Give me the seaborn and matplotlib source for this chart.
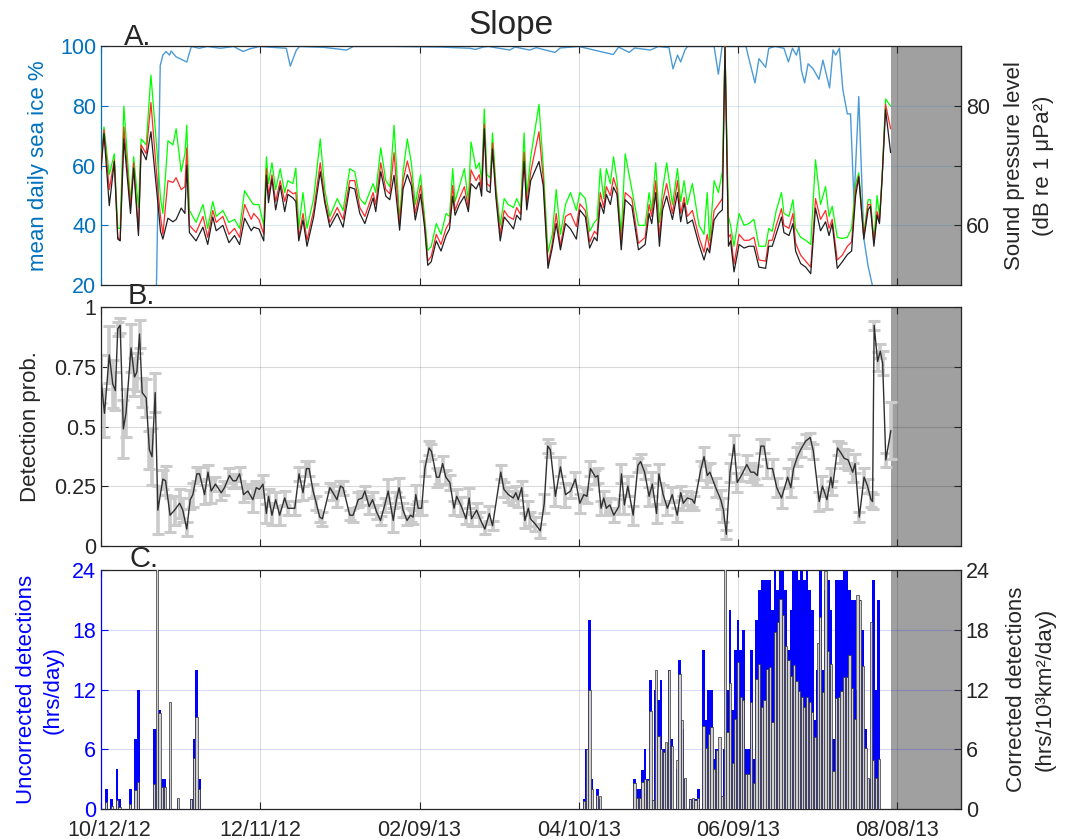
import numpy as np
import pandas as pd
import matplotlib
matplotlib.use("Agg")
import matplotlib.pyplot as plt
import matplotlib.dates as mdates
from matplotlib.ticker import FixedLocator, FixedFormatter
from matplotlib.transforms import ScaledTranslation
import seaborn as sns

sns.set_style("white")
plt.rcParams['font.family'] = ['Liberation Sans', 'DejaVu Sans']

# ==========================================
# data (days counted from START)
# ==========================================
START = "2012-10-12"
END_DAY = 324
NO_DATA_FROM = 297.5
TICK_DATES = ["2012-10-12", "2012-12-11", "2013-02-09", "2013-04-10", "2013-06-09", "2013-08-08"]

# A. sound pressure level, three percentiles (dB re 1 uPa^2)
spl_day = [0.0, 1.1, 3.1, 5.0, 6.3, 7.2, 8.6, 11.1, 12.3, 14.1, 15.1, 17.0, 18.8, 21.4, 22.4, 23.3,
           25.2, 27.1, 28.3, 30.2, 31.6, 32.3, 33.3, 35.8, 38.4, 40.2, 42.1, 43.4, 45.9, 48.2, 50.3,
           52.2, 54.1, 56.6, 57.5, 59.5, 61.3, 62.3, 63.1, 64.4, 65.8, 67.5, 69.2, 70.4, 72.3, 73.4,
           74.5, 76.1, 77.6, 80.1, 82.6, 84.3, 86.2, 89.0, 91.2, 93.7, 95.6, 97.5, 99.4, 102.5, 103.5,
           105.4, 107.3, 108.8, 110.4, 112.5, 113.8, 115.4, 116.9, 118.4, 120.4, 121.9, 123.1, 124.4,
           126.3, 128.1, 130.0, 131.3, 132.5, 133.4, 135.0, 136.9, 138.4, 139.4, 141.3, 142.5, 143.4,
           144.4, 145.4, 146.6, 147.5, 148.8, 150.4, 151.9, 153.4, 155.4, 156.6, 158.1, 159.4, 160.4,
           161.9, 165.0, 166.6, 168.4, 170.0, 171.5, 173.1, 175.0, 176.9, 179.1, 180.4, 182.5, 184.1,
           185.9, 186.9, 188.1, 189.4, 190.4, 191.9, 193.1, 194.4, 196.0, 197.5, 200.0, 202.5, 205.0,
           206.5, 207.5, 209.0, 210.4, 211.6, 213.1, 215.3, 217.2, 218.4, 219.7, 220.9, 222.8, 225.3,
           227.2, 228.4, 229.3, 231.0, 232.6, 234.1, 235.1, 236.4, 237.2, 238.5, 240.4, 242.3, 244.1,
           246.0, 247.9, 250.4, 251.6, 252.9, 254.4, 256.4, 257.3, 259.2, 260.7, 261.7, 263.6, 265.5,
           267.4, 269.2, 271.1, 273.0, 274.3, 275.5, 277.4, 279.3, 281.2, 282.8, 284.3, 285.5, 287.4,
           289.0, 289.9, 291.2, 292.4, 293.3, 294.3, 295.6, 297.5]
spl_low = [69.3, 75.4, 63.3, 70.7, 57.7, 57.4, 74.5, 62.0, 69.6, 58.3, 72.8, 71.0, 75.7, 63.8, 59.0, 57.7,
           61.2, 60.6, 61.0, 62.9, 62.0, 70.1, 58.8, 57.4, 59.7, 56.8, 61.4, 59.1, 60.0, 57.1, 58.3,
           56.8, 61.2, 59.1, 59.7, 59.4, 57.4, 68.4, 63.8, 67.8, 62.6, 66.7, 62.3, 65.2, 64.6, 64.0,
           57.4, 60.9, 56.5, 61.4, 69.0, 63.8, 59.7, 62.0, 59.7, 66.4, 66.1, 62.0, 60.3, 64.6, 62.3,
           69.0, 64.9, 64.3, 68.4, 59.2, 66.1, 68.5, 66.7, 60.9, 65.2, 59.7, 53.3, 53.9,
           57.4, 55.7, 58.3, 59.4, 64.9, 61.7, 63.5, 64.9, 62.3, 67.0, 66.1, 67.2, 64.9,
           76.2, 65.8, 65.5, 72.8, 64.6, 57.4, 61.4, 60.6, 59.4, 61.7, 60.9, 70.7, 62.6,
           67.5, 70.7, 66.7, 52.8, 56.2, 60.3, 55.9, 60.3, 59.4, 57.7, 62.6, 61.4, 56.2,
           58.0, 57.4, 63.8, 62.0, 65.2, 63.5, 66.4, 65.2, 55.9, 64.3, 63.2, 55.9, 56.8,
           62.0, 60.3, 65.5, 56.5, 62.6, 64.9, 61.0, 65.5, 60.6, 63.8, 60.3, 60.9, 56.8,
           54.2, 56.2, 55.4, 60.9, 62.0, 62.6, 89.9, 56.5, 57.4, 52.2, 56.8, 56.2, 56.5,
           56.5, 53.0, 52.8, 56.5, 56.5, 58.6, 61.4, 58.8, 58.3, 60.3, 55.7, 53.6, 53.0,
           51.9, 62.9, 59.1, 60.6, 58.3, 60.3, 52.8, 53.9, 55.1, 55.7, 64.9, 68.1, 57.7,
           62.6, 63.2, 56.5, 61.7, 60.3, 67.8, 79.4, 72.2]
spl_mid = [70.0, 76.0, 66.0, 71.0, 58.0, 57.5, 76.5, 63.0, 70.5, 59.0, 73.5, 72.0, 80.6, 66.0, 61.5, 58.5,
           67.5, 67.2, 68.0, 66.0, 66.5, 73.0, 60.0, 58.8, 61.5, 58.0, 62.5, 60.5, 61.5, 58.5, 59.5,
           58.0, 63.5, 61.0, 62.0, 61.0, 58.5, 69.5, 65.0, 68.5, 64.0, 67.5, 64.0, 66.0, 65.3, 65.5,
           58.0, 62.0, 57.5, 62.5, 70.5, 64.5, 60.5, 63.0, 61.0, 67.5, 67.5, 63.0, 61.5, 65.5, 63.5,
           70.5, 66.0, 65.3, 72.2, 60.0, 67.5, 70.8, 68.0, 62.0, 66.7, 60.5, 54.0, 54.8,
           58.5, 56.8, 59.5, 60.5, 66.7, 62.5, 64.5, 66.5, 63.0, 69.3, 67.5, 68.5, 66.0,
           77.0, 67.0, 66.5, 73.8, 65.5, 58.5, 62.5, 61.5, 61.0, 63.0, 61.8, 72.3, 63.5,
           69.0, 75.7, 68.0, 53.5, 57.0, 62.0, 56.5, 61.5, 62.0, 59.8, 63.6, 62.5, 57.2,
           59.0, 58.5, 65.5, 63.0, 66.5, 65.0, 68.0, 66.0, 57.0, 65.5, 64.5, 57.0, 58.0,
           63.5, 61.5, 67.5, 58.0, 64.0, 67.0, 62.0, 67.5, 62.0, 64.7, 61.5, 62.5, 58.0,
           55.5, 58.5, 56.0, 62.5, 63.5, 64.5, 90.0, 58.0, 58.5, 53.5, 58.5, 57.5, 57.5,
           58.0, 54.2, 54.0, 57.5, 57.5, 60.0, 62.8, 60.0, 59.5, 62.0, 57.0, 55.0, 54.0,
           53.0, 64.5, 61.0, 62.5, 59.5, 61.0, 54.2, 55.0, 56.5, 57.2, 66.0, 68.3, 58.0,
           63.5, 63.5, 57.0, 62.3, 60.8, 68.0, 80.3, 76.2]
spl_high = [70.5, 76.5, 68.5, 72.0, 59.5, 59.5, 80.0, 64.0, 71.5, 63.0, 74.5, 73.5, 85.2, 70.7, 64.6, 62.0,
            74.2, 73.5, 76.2, 69.0, 72.0, 76.8, 62.5, 60.5, 63.5, 59.5, 64.0, 61.5, 62.5, 60.5, 61.0,
            59.5, 65.8, 64.0, 63.5, 63.5, 60.0, 71.5, 67.0, 70.5, 66.0, 69.5, 65.5, 67.5, 67.0, 69.6,
            59.5, 65.5, 59.5, 64.5, 74.5, 66.0, 61.5, 64.5, 62.5, 69.5, 69.0, 64.5, 63.5, 67.0, 65.5,
            73.0, 67.5, 66.5, 76.8, 61.0, 69.0, 74.5, 70.5, 63.5, 68.5, 61.5, 55.8, 56.5,
            60.3, 58.5, 62.0, 61.5, 69.5, 64.0, 66.5, 69.5, 64.0, 74.0, 69.5, 70.5, 67.5,
            79.5, 68.5, 68.0, 75.5, 66.5, 60.0, 64.5, 63.5, 63.0, 64.5, 63.0, 75.5, 65.0,
            71.5, 80.3, 70.0, 55.5, 58.5, 66.0, 58.5, 63.5, 65.5, 62.5, 65.5, 64.5, 59.0,
            60.5, 61.0, 69.5, 64.5, 69.5, 67.0, 71.5, 67.5, 58.5, 72.0, 66.0, 60.0, 60.0,
            65.5, 62.5, 70.5, 60.5, 66.0, 70.5, 63.5, 69.5, 64.0, 67.5, 63.5, 67.0, 60.0,
            58.5, 65.5, 57.5, 67.5, 65.5, 69.0, 90.0, 61.5, 60.0, 56.5, 62.0, 60.0, 60.3,
            61.0, 56.5, 56.5, 59.5, 59.0, 62.5, 65.5, 62.0, 61.5, 64.3, 59.5, 58.0, 57.5,
            56.8, 71.0, 63.5, 66.5, 61.5, 63.2, 58.0, 57.8, 58.0, 59.5, 67.0, 68.8, 58.5,
            64.3, 64.3, 57.5, 65.0, 61.5, 68.3, 81.2, 80.0]

# A. mean daily sea ice (%)
ice_day = [20.5, 22.3, 23.3, 24.5, 25.8, 26.4, 28.3, 32.3, 34.0, 37.0, 40.0, 45.0, 50.0, 53.5, 56.0,
           59.7, 69.8, 71.3, 73.6, 74.8, 84.0, 92.5, 95.0, 110.0, 128.0, 139.0, 141.0, 144.0, 146.0,
           154.0, 156.0, 161.5, 164.0, 171.0, 173.0, 180.0, 193.0, 195.0, 199.0, 201.0, 207.0, 210.0,
           214.0, 215.5, 217.2, 218.4, 220.0, 221.0, 231.0, 232.6, 234.0, 243.0, 244.1, 246.4, 247.9,
           250.4, 251.6, 254.0, 257.3, 259.0, 260.5, 262.0, 263.0, 263.9, 265.1, 266.4, 268.3, 270.5,
           272.0, 274.5, 275.8, 276.8, 278.2, 279.5, 281.2, 282.4, 283.7, 285.5, 287.4, 289.0, 290.6,
           291.5]
ice_pct = [0.0, 93.6, 97.1, 98.3, 97.1, 98.5, 96.5, 94.8, 100.0, 99.4, 100.0, 99.4, 100.0, 98.3, 99.2,
           100.0, 99.4, 93.4, 98.8, 100.0, 99.7, 98.8, 100.0, 100.0, 99.8, 99.4, 99.0, 99.8, 100.0,
           98.8, 99.8, 98.8, 99.6, 98.0, 99.5, 100.0, 97.3, 99.8, 98.0, 99.5, 98.8, 100.0,
           99.6, 92.5, 97.1, 94.8, 98.8, 100.0, 100.0, 90.7, 100.0, 100.0, 95.9, 87.8, 95.9,
           93.0, 99.4, 100.0, 99.4, 94.8, 99.4, 97.1, 100.0, 91.9, 87.8, 94.2, 92.5, 89.0,
           95.4, 86.1, 98.8, 97.1, 99.4, 85.5, 77.4, 77.4, 47.8, 83.2, 35.7, 26.4, 20.0,
           12.0]

# B. detection probability and its uncertainty
prob_day = [0.0, 1.3, 3.1, 4.4, 5.4, 6.3, 7.2, 8.4, 9.4, 11.3, 12.6, 13.5, 14.5, 15.5, 17.0, 18.2, 19.2,
            20.4, 21.4, 23.3, 24.3, 26.0, 27.7, 29.6, 30.8, 32.3, 33.6, 34.6, 36.1, 37.1, 39.0, 40.3,
            41.5, 43.1, 45.3, 46.5, 48.4, 49.7, 50.9, 52.2, 53.7, 55.3, 57.2, 58.5, 59.7, 61.0, 62.3,
            63.1, 64.4, 65.8, 67.3, 69.2, 70.4, 73.0, 74.6, 76.1, 77.4, 78.4, 79.9, 81.1, 82.4, 83.4,
            86.2, 87.4, 88.9, 90.2, 91.2, 93.7, 95.0, 96.9, 98.4, 99.4, 101.0, 102.3, 103.8, 105.3,
            106.9, 108.2, 110.1, 111.3, 112.3, 113.8, 115.3, 116.6, 117.6, 118.6, 119.5, 120.8, 122.0,
            123.6, 124.5, 126.4, 127.4, 128.7, 129.9, 131.4, 133.0, 134.0, 135.8, 137.5, 138.7, 139.6,
            141.5, 142.8, 144.6, 146.3, 147.5, 150.6, 151.8, 153.5, 155.3, 156.3, 157.2, 158.5, 159.7,
            161.0, 161.8, 163.6, 165.5, 167.0, 168.3, 169.3, 171.2, 173.1, 175.0, 176.9, 178.7, 180.4,
            181.9, 183.1, 184.4, 186.3, 187.2, 188.4, 189.4, 190.4, 191.7, 193.2, 195.1, 196.1, 197.2,
            198.5, 200.5, 202.3, 203.3, 204.8, 206.5, 207.7, 209.3, 210.2, 211.8, 213.4, 215.2, 217.1,
            218.4, 219.4, 220.9, 222.8, 223.6, 225.9, 227.2, 228.4, 229.4, 231.6, 233.5, 234.5, 235.6,
            237.0, 238.5, 239.7, 241.6, 243.3, 244.8, 246.0, 247.3, 248.6, 249.8, 251.1, 253.0, 254.6,
            256.4, 258.7, 259.9, 260.9, 262.4, 263.6, 265.5, 267.2, 268.4, 270.6, 271.8, 273.5, 275.0,
            275.6, 277.5, 278.8, 280.0, 281.5, 283.2, 284.1, 285.7, 287.5, 288.8, 290.1, 290.7, 291.3,
            292.6, 293.6, 294.5, 295.7, 297.6]
prob = [0.70, 0.555, 0.80, 0.678, 0.65, 0.909, 0.923, 0.49, 0.555, 0.829, 0.707, 0.728, 0.887, 0.642,
        0.62, 0.403, 0.374, 0.642, 0.15, 0.28, 0.273, 0.129, 0.15, 0.179, 0.15, 0.071, 0.194, 0.215,
        0.302, 0.302, 0.215, 0.309, 0.23, 0.259, 0.223, 0.244, 0.295, 0.273, 0.273, 0.302, 0.215, 0.23,
        0.194, 0.244, 0.237, 0.259, 0.136, 0.208, 0.129, 0.194, 0.129, 0.201, 0.158, 0.158, 0.302,
        0.223, 0.324, 0.324, 0.23, 0.179, 0.121, 0.114, 0.244, 0.223, 0.194, 0.251, 0.244, 0.129,
        0.129, 0.194, 0.201, 0.23, 0.165, 0.194, 0.143, 0.107, 0.172, 0.23, 0.107, 0.194, 0.244, 0.15,
        0.107, 0.129, 0.121, 0.215, 0.158, 0.158, 0.324, 0.41, 0.396, 0.288, 0.288, 0.345, 0.288,
        0.266, 0.158, 0.208, 0.165, 0.114, 0.201, 0.114, 0.15, 0.114, 0.071, 0.136, 0.085, 0.309,
        0.237, 0.215, 0.201, 0.223, 0.194, 0.244, 0.107, 0.158, 0.114, 0.092, 0.064, 0.179, 0.418,
        0.403, 0.208, 0.331, 0.215, 0.23, 0.28, 0.179, 0.215, 0.208, 0.324, 0.288, 0.295, 0.158,
        0.201, 0.158, 0.172, 0.129, 0.165, 0.302, 0.172, 0.251, 0.129, 0.338, 0.353, 0.309, 0.208,
        0.259, 0.136, 0.302, 0.215, 0.158, 0.215, 0.129, 0.223, 0.179, 0.201, 0.194, 0.179, 0.316,
        0.374, 0.295, 0.309, 0.244, 0.194, 0.15, 0.049, 0.309, 0.425, 0.266, 0.302, 0.341, 0.309,
        0.309, 0.295, 0.418, 0.418, 0.324, 0.324, 0.244, 0.201, 0.288, 0.244, 0.324, 0.374, 0.403,
        0.439, 0.454, 0.396, 0.186, 0.251, 0.194, 0.288, 0.244, 0.41, 0.389, 0.367, 0.36, 0.309,
        0.345, 0.121, 0.288, 0.251, 0.194, 0.186, 0.923, 0.772, 0.815, 0.764, 0.36, 0.483]
prob_err = [0.10, 0.10, 0.12, 0.10, 0.08, 0.03, 0.03, 0.12, 0.10, 0.10, 0.08, 0.08, 0.06, 0.06, 0.08,
            0.08, 0.12, 0.08, 0.10, 0.04, 0.06, 0.07, 0.06, 0.06, 0.05, 0.03, 0.04, 0.05, 0.03, 0.03,
            0.04, 0.03, 0.05, 0.03, 0.03, 0.03, 0.03, 0.03, 0.03, 0.03, 0.03, 0.03, 0.05, 0.03, 0.03,
            0.04, 0.04, 0.03, 0.04, 0.03, 0.04, 0.03, 0.03, 0.03, 0.03, 0.03, 0.03, 0.03, 0.03, 0.03,
            0.02, 0.03, 0.02, 0.03, 0.03, 0.02, 0.03, 0.02, 0.03, 0.03, 0.03, 0.02, 0.03, 0.03, 0.03,
            0.02, 0.03, 0.05, 0.05, 0.03, 0.04, 0.03, 0.02, 0.03, 0.03, 0.04, 0.03, 0.03, 0.03, 0.03,
            0.03, 0.04, 0.03, 0.03, 0.03, 0.03, 0.03, 0.03, 0.04, 0.02, 0.04, 0.03, 0.03, 0.03, 0.02,
            0.03, 0.02, 0.03, 0.03, 0.03, 0.03, 0.03, 0.03, 0.03, 0.03, 0.03, 0.03, 0.03, 0.03, 0.04,
            0.03, 0.03, 0.04, 0.04, 0.05, 0.03, 0.03, 0.04, 0.03, 0.03, 0.03, 0.03, 0.03, 0.03, 0.03,
            0.03, 0.03, 0.03, 0.03, 0.04, 0.04, 0.04, 0.04, 0.03, 0.03, 0.03, 0.04, 0.05, 0.04, 0.04,
            0.04, 0.03, 0.03, 0.03, 0.03, 0.03, 0.03, 0.03, 0.03, 0.04, 0.04, 0.05, 0.04, 0.04, 0.04,
            0.05, 0.02, 0.04, 0.04, 0.04, 0.03, 0.04, 0.04, 0.03, 0.04, 0.03, 0.03, 0.04, 0.04, 0.04,
            0.04, 0.04, 0.04, 0.04, 0.04, 0.03, 0.03, 0.02, 0.03, 0.04, 0.04, 0.04, 0.04, 0.03, 0.03,
            0.04, 0.04, 0.04, 0.04, 0.04, 0.02, 0.04, 0.03, 0.03, 0.03, 0.02, 0.04, 0.03, 0.05, 0.03,
            0.12]

# C. daily detections (days without detections are left out)
det_day = [2, 4, 6, 7, 11, 13, 14, 20, 21, 22, 23, 24, 26, 29, 34, 35, 36, 37,
           182, 183, 184, 185, 187, 188,
           201, 202, 203, 204, 205, 206, 207, 208, 209, 210, 211, 212, 213, 214, 215, 217, 218, 219,
           220, 222, 223, 224, 225, 227, 228, 229, 230, 231, 232, 233, 234, 235, 236, 237, 238, 239,
           240, 241, 242, 243, 244, 245, 246, 247, 248, 249, 250, 251, 252, 253, 254, 255, 256, 257,
           258, 259, 260, 261, 262, 263, 264, 265, 266, 267, 268, 269, 270, 271, 272, 273, 274, 275,
           276, 277, 278, 279, 280, 281, 282, 283, 284, 285, 286, 287, 288, 289, 290, 291, 292, 293]
det_uncorr = [2, 1, 4, 1, 2, 7, 12, 8, 8, 10, 3, 3, 3, 1, 1, 7, 14, 3,
              1, 6, 19, 3, 2, 1,
              3, 2, 2, 3.9, 6, 3, 13, 0.9, 12, 11, 13, 6, 6, 14, 7, 4, 15, 8,
              3, 1, 1, 1, 2, 16, 9, 12, 12, 5, 6, 6, 1.3, 6, 12, 20, 10, 16,
              19, 16, 18, 6, 6, 16, 5, 19, 22, 23, 23, 23, 23, 20, 24, 22, 24, 24,
              22, 16, 20, 24, 24, 23, 24, 23, 24, 22, 20, 9, 14, 24, 14, 22, 23, 20,
              7, 23, 23, 23, 24, 24, 22, 21, 21, 12, 21, 18, 8, 3, 3, 23, 12, 21]
det_corr = [0.7, 0.3, 0.9, 0.2, 0.5, 1.9, 2.7, 2.5, 30, 9.7, 2.2, 2.2, 10.8, 1.1, 1.0, 5.1, 9.3, 2.0,
            0.8, 6.0, 12.0, 2.0, 1.4, 1.3,
            2.6, 1.1, 1.1, 2.7, 3.0, 2.9, 9.9, 0.9, 14.0, 7.3, 6.0, 5.7, 6.7, 14.0, 6.3, 4.9, 13.6, 9.0,
            3.1, 1.05, 1.1, 0.9, 1.1, 8.3, 6.1, 7.5, 8.2, 4.0, 5.9, 7.2, 1.3, 30, 7.7, 12.7, 4.6, 9.1,
            14.8, 11.3, 11.0, 3.5, 3.5, 10.8, 2.6, 13.1, 14.6, 10.3, 11.0, 14.1, 14.3, 8.7, 17.8, 18.8,
            21.1, 19.5, 16.4, 15.0, 13.4, 14.5, 12.9, 11.9, 11.3, 10.3, 11.3, 10.8, 9.8, 7.2, 16.7, 19.3,
            11.8, 23.9, 15.9, 14.6, 3.8, 11.2, 11.3, 11.9, 13.3, 13.3, 15.5, 12.2, 9.1, 21.5, 21.0, 14.4,
            6.1, 3.1, 18.8, 4.9, 3.1, 5.0]

a_left_ticks = [20, 40, 60, 80, 100]
a_right_ticks = [60, 70, 80]
a_right_ticklabels = ["60", "", "80"]
b_ticks = [0, 0.25, 0.5, 0.75, 1]
b_ticklabels = ["0", "0.25", "0.5", "0.75", "1"]
c_ticks = [0, 6, 12, 18, 24]

# ==========================================
# helpers
# ==========================================
t0 = mdates.date2num(pd.Timestamp(START))
tick_pos = mdates.date2num(pd.to_datetime(TICK_DATES))


def to_x(days):
    return t0 + np.asarray(days, dtype=float)


DARK = "#262626"
MBLUE = "#0072BD"


def style_axis(ax, hgrid_color):
    ax.set_xlim(t0, t0 + END_DAY)
    ax.xaxis.set_major_locator(FixedLocator(tick_pos))
    ax.xaxis.set_major_formatter(mdates.DateFormatter("%m/%d/%y"))
    ax.axvspan(t0 + NO_DATA_FROM, t0 + END_DAY, color="#a0a0a0", lw=0, zorder=1)
    ax.set_axisbelow("line")
    ax.grid(True, axis="x", color="black", alpha=0.13, lw=0.8)
    ax.grid(True, axis="y", color=hgrid_color, alpha=0.15, lw=0.8)
    ax.tick_params(axis="x", which="both", direction="in", length=5, width=0.8,
                   top=True, bottom=True, labelbottom=False, color=DARK)
    for s in ax.spines.values():
        s.set_color(DARK)
        s.set_linewidth(0.9)


fig = plt.figure(figsize=(10.83, 8.39), dpi=100)
W = 0.794
axA = fig.add_axes([0.0933, 0.6603, W, 0.2843])
axB = fig.add_axes([0.0933, 0.3492, W, 0.2849])
axC = fig.add_axes([0.0933, 0.0358, W, 0.2843])

TICK_FS = 15.5
LAB_FS = 16

# ------------------------------------------
# A. sea ice + sound pressure level
# ------------------------------------------
style_axis(axA, MBLUE)
sns.lineplot(x=to_x(ice_day), y=ice_pct, ax=axA, color="#4d9bd5", lw=1.0,
             estimator=None, sort=False, zorder=2)
axA.set_ylim(20, 100)
axA.set_yticks(a_left_ticks)
axA.tick_params(axis="y", direction="in", length=5, colors=MBLUE, labelsize=TICK_FS)
axA.spines["left"].set_color(MBLUE)
axA.set_ylabel("mean daily sea ice %", color=MBLUE, fontsize=LAB_FS)
axA.yaxis.set_label_coords(-0.061, 0.5)
axA.set_xlabel("")

axA2 = axA.twinx()
sns.lineplot(x=to_x(spl_day), y=spl_high, ax=axA2, color="#00ff00", lw=0.9, estimator=None, sort=False)
sns.lineplot(x=to_x(spl_day), y=spl_mid, ax=axA2, color="#ff2a2a", lw=0.9, estimator=None, sort=False)
sns.lineplot(x=to_x(spl_day), y=spl_low, ax=axA2, color="#202020", lw=0.9, estimator=None, sort=False)
axA2.set_ylim(50, 90)
axA2.yaxis.set_major_locator(FixedLocator(a_right_ticks))
axA2.yaxis.set_major_formatter(FixedFormatter(a_right_ticklabels))
axA2.tick_params(axis="y", direction="in", length=5, colors=DARK, labelsize=TICK_FS)
for side in ["left", "top", "bottom"]:
    axA2.spines[side].set_visible(False)
axA2.spines["right"].set_color(DARK)
axA2.set_ylabel("Sound pressure level\n(dB re 1 μPa²)", fontsize=LAB_FS, color=DARK, linespacing=1.5)
axA2.yaxis.set_label_coords(1.05, 0.5)
axA2.set_xlim(t0, t0 + END_DAY)

# ------------------------------------------
# B. detection probability
# ------------------------------------------
style_axis(axB, "black")
axB.errorbar(to_x(prob_day), prob, yerr=prob_err, fmt="none", ecolor="#cbcbcb",
             elinewidth=2.6, capsize=4, capthick=2.2, zorder=2)
sns.lineplot(x=to_x(prob_day), y=prob, ax=axB, color="#303030", lw=1.0,
             estimator=None, sort=False, zorder=3)
axB.set_ylim(0, 1)
axB.yaxis.set_major_locator(FixedLocator(b_ticks))
axB.yaxis.set_major_formatter(FixedFormatter(b_ticklabels))
axB.tick_params(axis="y", direction="in", length=5, right=True, left=True,
                colors=DARK, labelsize=TICK_FS)
axB.set_ylabel("Detection prob.", fontsize=LAB_FS, color=DARK)
axB.yaxis.set_label_coords(-0.07, 0.5)

# ------------------------------------------
# C. detections, uncorrected and corrected
# ------------------------------------------
style_axis(axC, "#0000ff")
axC.bar(to_x(det_day), det_uncorr, width=1.0, color="#0000ff", lw=0, zorder=2)
axC.set_ylim(0, 24)
axC.set_yticks(c_ticks)
axC.tick_params(axis="y", direction="in", length=5, colors="#0000ff", labelsize=TICK_FS)
axC.spines["left"].set_color("#0000ff")
axC.set_ylabel("Uncorrected detections\n(hrs/day)", color="#0000ff", fontsize=LAB_FS, linespacing=1.4)
axC.yaxis.set_label_coords(-0.043, 0.5)
axC.tick_params(axis="x", labelbottom=True, labelsize=TICK_FS, pad=8)

axC2 = axC.twinx()
axC2.bar(to_x(det_day), det_corr, width=0.85, color="#cfcfcf", edgecolor="#333333",
         lw=0.5, zorder=2)
axC2.set_ylim(0, 24)
axC2.set_yticks(c_ticks)
axC2.tick_params(axis="y", direction="in", length=5, colors=DARK, labelsize=TICK_FS)
for side in ["left", "top", "bottom"]:
    axC2.spines[side].set_visible(False)
axC2.spines["right"].set_color(DARK)
axC2.set_ylabel("Corrected detections\n(hrs/10³km²/day)", fontsize=LAB_FS, color=DARK, linespacing=1.5)
axC2.yaxis.set_label_coords(1.052, 0.5)
axC2.set_xlim(t0, t0 + END_DAY)

# first date label sits a bit right of its tick in the original
first = axC.get_xticklabels()[0]
first.set_transform(first.get_transform() + ScaledTranslation(0.08, 0, fig.dpi_scale_trans))

# ------------------------------------------
# titles / panel letters
# ------------------------------------------
fig.text(0.472, 0.959, "Slope", ha="center", va="baseline", fontsize=24)
axA.text(0.027, 1.006, "A.", transform=axA.transAxes, fontsize=21, va="baseline")
axB.text(0.031, 1.013, "B.", transform=axB.transAxes, fontsize=21, va="baseline")
axC.text(0.033, 1.015, "C.", transform=axC.transAxes, fontsize=21, va="baseline")

fig.savefig("out.png", dpi=100)
